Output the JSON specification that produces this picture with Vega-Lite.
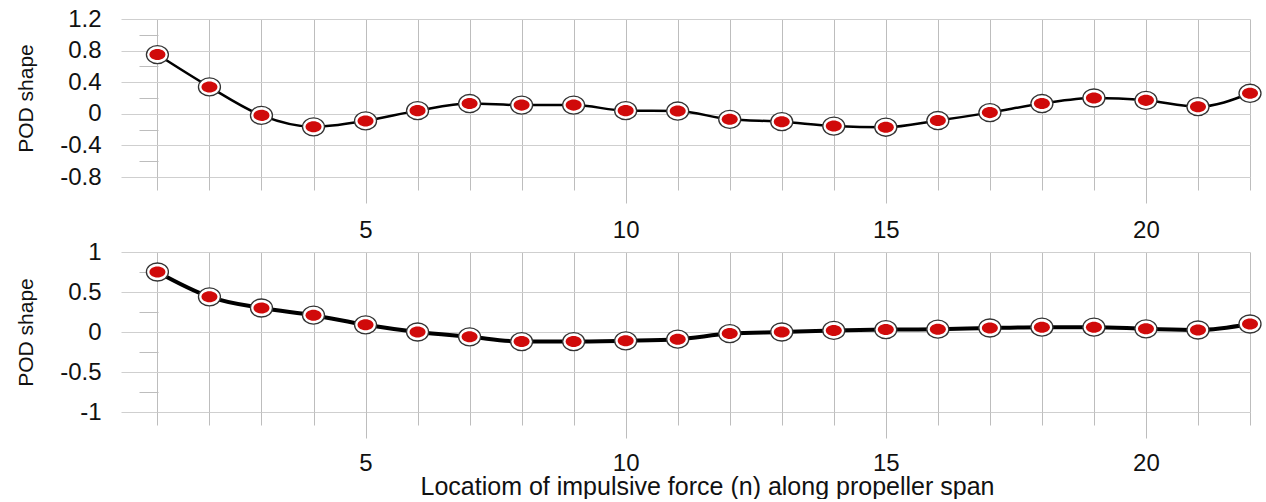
{
  "$schema": "https://vega.github.io/schema/vega-lite/v6.json",
  "background": "white",
  "padding": {"left": 15, "top": 7, "right": 6, "bottom": 0},
  "spacing": -2,
  "config": {
    "view": {"stroke": null},
    "font": "Liberation Sans",
    "axis": {"labelFont": "Liberation Sans", "titleFont": "Liberation Sans", "labelColor": "#111", "titleColor": "#111", "titleFontWeight": "normal"}
  },
  "datasets": {
    "top": [
      {"n": 1, "v": 0.75}, {"n": 2, "v": 0.34}, {"n": 3, "v": -0.02}, {"n": 4, "v": -0.165},
      {"n": 5, "v": -0.09}, {"n": 6, "v": 0.04}, {"n": 7, "v": 0.13}, {"n": 8, "v": 0.11},
      {"n": 9, "v": 0.11}, {"n": 10, "v": 0.04}, {"n": 11, "v": 0.035}, {"n": 12, "v": -0.07},
      {"n": 13, "v": -0.1}, {"n": 14, "v": -0.155}, {"n": 15, "v": -0.17}, {"n": 16, "v": -0.085},
      {"n": 17, "v": 0.015}, {"n": 18, "v": 0.13}, {"n": 19, "v": 0.2}, {"n": 20, "v": 0.17},
      {"n": 21, "v": 0.09}, {"n": 22, "v": 0.26}
    ],
    "bottom": [
      {"n": 1, "v": 0.75}, {"n": 2, "v": 0.44}, {"n": 3, "v": 0.3}, {"n": 4, "v": 0.21},
      {"n": 5, "v": 0.09}, {"n": 6, "v": 0.0}, {"n": 7, "v": -0.06}, {"n": 8, "v": -0.12},
      {"n": 9, "v": -0.12}, {"n": 10, "v": -0.11}, {"n": 11, "v": -0.09}, {"n": 12, "v": -0.02},
      {"n": 13, "v": 0.0}, {"n": 14, "v": 0.02}, {"n": 15, "v": 0.03}, {"n": 16, "v": 0.035},
      {"n": 17, "v": 0.05}, {"n": 18, "v": 0.06}, {"n": 19, "v": 0.06}, {"n": 20, "v": 0.04},
      {"n": 21, "v": 0.025}, {"n": 22, "v": 0.1}
    ]
  },
  "vconcat": [
    {
      "width": 1129,
      "height": 158,
      "data": {"name": "top"},
      "resolve": {"axis": {"x": "independent", "y": "independent"}},
      "layer": [
        {
          "mark": {"type": "line", "interpolate": "monotone", "color": "#000", "strokeWidth": 2.5},
          "encoding": {
            "x": {"field": "n", "type": "quantitative", "scale": {"domain": [0.3, 22], "nice": false, "zero": false},
              "axis": {"orient": "bottom", "values": [1,2,3,4,5,6,7,8,9,10,11,12,13,14,15,16,17,18,19,20,21,22], "labels": false, "domain": false, "grid": true, "gridColor": "#bdbdbd", "gridWidth": 1, "tickColor": "#bdbdbd", "tickSize": 13, "title": null}},
            "y": {"field": "v", "type": "quantitative", "scale": {"domain": [-0.8, 1.2], "nice": false, "zero": false},
              "axis": {"orient": "left", "values": [-0.8, -0.4, 0, 0.4, 0.8, 1.2], "labelExpr": "'' + datum.value", "labelFontSize": 24, "labelPadding": 20, "ticks": false, "domain": false, "grid": true, "gridColor": "#cfcfcf", "gridWidth": 1, "title": "POD shape", "titleFontSize": 21, "titlePadding": 23}}
          }
        },
        {
          "mark": {"type": "point", "shape": "M-1,0A1,0.82,0,1,0,1,0A1,0.82,0,1,0,-1,0Z", "filled": true, "fill": "#fff", "stroke": "#333", "strokeWidth": 1.3, "size": 484, "opacity": 1},
          "encoding": {"x": {"field": "n", "type": "quantitative", "axis": null}, "y": {"field": "v", "type": "quantitative", "axis": null}}
        },
        {
          "mark": {"type": "point", "shape": "M-1,0A1,0.69,0,1,0,1,0A1,0.69,0,1,0,-1,0Z", "filled": true, "fill": "#d00a0a", "strokeWidth": 0, "size": 256, "opacity": 1},
          "encoding": {"x": {"field": "n", "type": "quantitative", "axis": null}, "y": {"field": "v", "type": "quantitative", "axis": null}}
        },
        {
          "mark": {"type": "point", "opacity": 0},
          "encoding": {
            "x": {"field": "n", "type": "quantitative",
              "axis": {"orient": "bottom", "values": [5, 10, 15, 20], "labelFontSize": 24, "labelPadding": 15, "domain": false, "grid": false, "tickColor": "#bdbdbd", "tickSize": 26, "title": null}},
            "y": {"field": "v", "type": "quantitative",
              "axis": {"orient": "left", "offset": -37, "values": [-0.6, -0.2, 0.2, 0.6, 1.0], "labels": false, "domain": false, "grid": false, "tickColor": "#bdbdbd", "tickSize": 19, "title": null}}
          }
        }
      ]
    },
    {
      "width": 1129,
      "height": 160,
      "data": {"name": "bottom"},
      "resolve": {"axis": {"x": "independent", "y": "independent"}},
      "layer": [
        {
          "mark": {"type": "line", "interpolate": "monotone", "color": "#000", "strokeWidth": 4},
          "encoding": {
            "x": {"field": "n", "type": "quantitative", "scale": {"domain": [0.3, 22], "nice": false, "zero": false},
              "axis": {"orient": "bottom", "values": [1,2,3,4,5,6,7,8,9,10,11,12,13,14,15,16,17,18,19,20,21,22], "labels": false, "domain": false, "grid": true, "gridColor": "#bdbdbd", "gridWidth": 1, "tickColor": "#bdbdbd", "tickSize": 13, "title": null}},
            "y": {"field": "v", "type": "quantitative", "scale": {"domain": [-1, 1], "nice": false, "zero": false},
              "axis": {"orient": "left", "values": [-1, -0.5, 0, 0.5, 1], "labelExpr": "'' + datum.value", "labelFontSize": 24, "labelPadding": 20, "ticks": false, "domain": false, "grid": true, "gridColor": "#cfcfcf", "gridWidth": 1, "title": "POD shape", "titleFontSize": 21, "titlePadding": 23}}
          }
        },
        {
          "mark": {"type": "point", "shape": "M-1,0A1,0.82,0,1,0,1,0A1,0.82,0,1,0,-1,0Z", "filled": true, "fill": "#fff", "stroke": "#333", "strokeWidth": 1.3, "size": 484, "opacity": 1},
          "encoding": {"x": {"field": "n", "type": "quantitative", "axis": null}, "y": {"field": "v", "type": "quantitative", "axis": null}}
        },
        {
          "mark": {"type": "point", "shape": "M-1,0A1,0.69,0,1,0,1,0A1,0.69,0,1,0,-1,0Z", "filled": true, "fill": "#d00a0a", "strokeWidth": 0, "size": 256, "opacity": 1},
          "encoding": {"x": {"field": "n", "type": "quantitative", "axis": null}, "y": {"field": "v", "type": "quantitative", "axis": null}}
        },
        {
          "mark": {"type": "point", "opacity": 0},
          "encoding": {
            "x": {"field": "n", "type": "quantitative",
              "axis": {"orient": "bottom", "values": [5, 10, 15, 20], "labelFontSize": 24, "labelPadding": 13, "domain": false, "grid": false, "tickColor": "#bdbdbd", "tickSize": 26, "title": "Locatiom of impulsive force (n) along propeller span", "titleFontSize": 25, "titlePadding": -1, "titleX": 586}},
            "y": {"field": "v", "type": "quantitative",
              "axis": {"orient": "left", "offset": -37, "values": [-0.75, -0.25, 0.25, 0.75], "labels": false, "domain": false, "grid": false, "tickColor": "#bdbdbd", "tickSize": 19, "title": null}}
          }
        }
      ]
    }
  ]
}
